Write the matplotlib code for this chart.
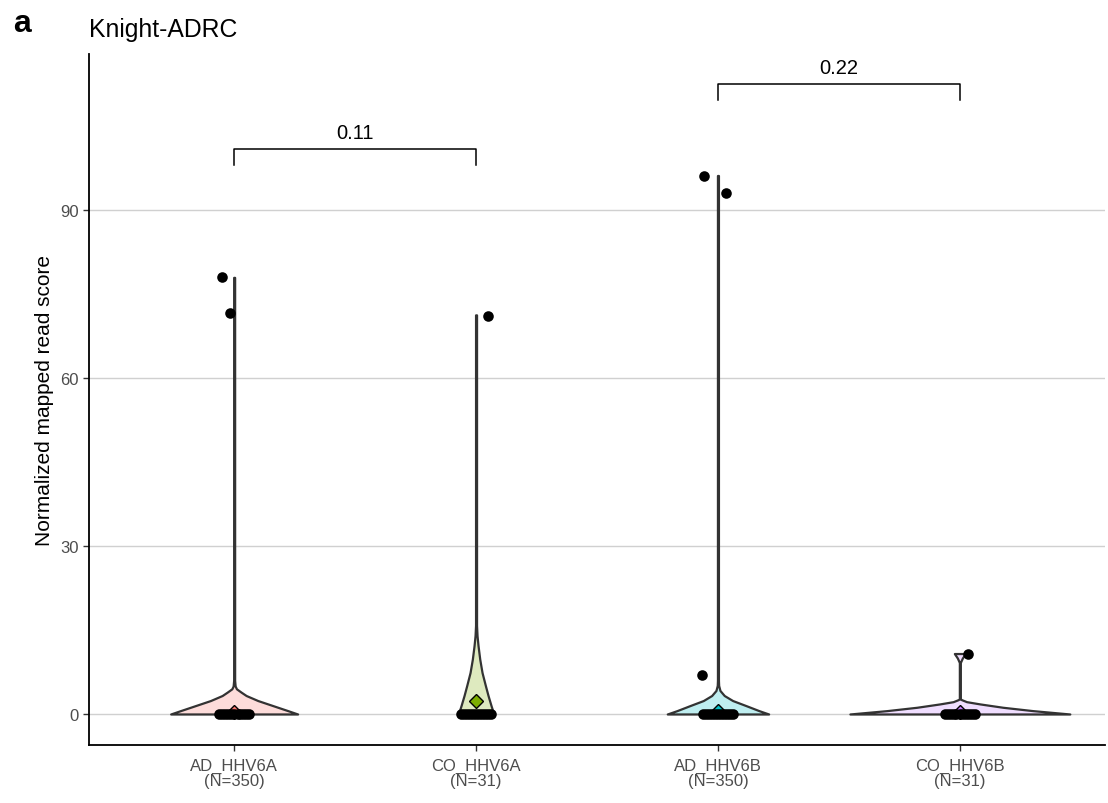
import numpy as np
import matplotlib
matplotlib.use("Agg")
import matplotlib.pyplot as plt
from matplotlib.colors import to_rgba

plt.rcParams['font.family'] = ['Liberation Sans', 'DejaVu Sans']

# groups and colours
groups = ["AD_HHV6A", "CO_HHV6A", "AD_HHV6B", "CO_HHV6B"]
n_total = [350, 31, 350, 31]
colors = ["#F8766D", "#7CAE00", "#00BFC4", "#C77CFF"]

# non-zero observations (all others are 0) and their jitter offsets
ad6a_vals = [78.0, 71.6]
ad6a_jit = [-0.052, -0.019]
co6a_vals = [71.1]
co6a_jit = [0.05]
ad6b_vals = [96.1, 93.1, 7.0]
ad6b_jit = [-0.058, 0.032, -0.066]
co6b_vals = [10.8]
co6b_jit = [0.034]

# jitter used for the stack of zero values
zero_jit = [-0.062, -0.05, -0.038, -0.026, -0.014, 0.0, 0.014, 0.026, 0.038, 0.05, 0.062]

# violin outlines: value, half width (px)
ad6a_y = [0, 0.6, 1.5, 2.4, 3.3, 3.9, 4.5, 5.0, 6.0, 78.0]
ad6a_w = [63.5, 53.7, 38.7, 23.7, 12, 7, 2.3, 1.0, 0.5, 0.5]
co6a_y = [0, 1.5, 3.3, 5.1, 7.4, 9.8, 12.2, 14.0, 15.8, 71.3]
co6a_w = [17.7, 15, 12, 9.3, 6, 3.7, 2, 1, 0.5, 0.5]
ad6b_y = [0, 0.6, 1.5, 2.4, 3.3, 4.2, 5.1, 6.0, 96.2]
ad6b_w = [50.7, 41, 28, 14.7, 6.3, 2, 0.7, 0.5, 0.5]
co6b_y = [0, 0.6, 1.2, 1.8, 2.2, 2.56, 2.7, 9.2, 10.0, 10.8]
co6b_w = [110, 73, 43, 20, 6.7, 1.7, 0.5, 0.5, 2.5, 5.5]

# p-value brackets
brackets = [(1, 2, 100.9, "0.11"), (3, 4, 112.5, "0.22")]

vals = [ad6a_vals, co6a_vals, ad6b_vals, co6b_vals]
jits = [ad6a_jit, co6a_jit, ad6b_jit, co6b_jit]
prof_y = [ad6a_y, co6a_y, ad6b_y, co6b_y]
prof_w = [ad6a_w, co6a_w, ad6b_w, co6b_w]

fig = plt.figure(figsize=(11.08, 8.04), dpi=100)
ax = fig.add_axes([89/1108, 1 - 746/804, (1105 - 89)/1108, (746 - 55)/804])

px = 1 / 242.0  # x data units per pixel

for i in range(4):
    pos = i + 1
    y = np.array(prof_y[i])
    w = np.array(prof_w[i]) * px
    ax.fill_betweenx(y, pos - w, pos + w, facecolor=to_rgba(colors[i], 0.25),
                     edgecolor="#333333", linewidth=1.6, zorder=2)
    mean = sum(vals[i]) / n_total[i]
    ax.plot(pos, mean, marker="D", markersize=7.5, markerfacecolor=colors[i],
            markeredgecolor="black", markeredgewidth=1, zorder=3)
    ax.scatter([pos + j for j in zero_jit], [0] * len(zero_jit), s=58, color="black",
               zorder=4, linewidths=0)
    ax.scatter([pos + j for j in jits[i]], vals[i], s=58, color="black",
               zorder=4, linewidths=0)

for x1, x2, yb, lab in brackets:
    ax.plot([x1, x1, x2, x2], [yb - 2.9, yb, yb, yb - 2.9], color="black", lw=1.1, zorder=5)
    ax.text((x1 + x2) / 2, yb + 1.3, lab, ha="center", va="bottom", fontsize=14.5)

ax.set_xlim(0.4, 4.6)
ax.set_ylim(-5.54, 117.9)
ax.set_yticks([0, 30, 60, 90])
ax.set_xticks([1, 2, 3, 4])
ax.set_xticklabels([f"{g}\n(N={n})" for g, n in zip(groups, n_total)], linespacing=1.05)
ax.tick_params(axis="both", colors="#333333", length=4, width=1, labelsize=12,
               labelcolor="#4D4D4D")
ax.tick_params(axis="x", pad=5)
ax.grid(axis="y", color="#D0D0D0", linewidth=1)
ax.set_axisbelow(True)
for s in ["top", "right"]:
    ax.spines[s].set_visible(False)
ax.spines["left"].set_linewidth(1.3)
ax.spines["bottom"].set_linewidth(1.3)
ax.set_ylabel("Normalized mapped read score", fontsize=15)
ax.yaxis.set_label_coords(-0.034, 0.5)

fig.text(89/1108, 1 - 37/804, "Knight-ADRC", fontsize=17.8, ha="left", va="baseline")
fig.text(13/1108, 1 - 32/804, "a", fontsize=23, fontweight="bold", ha="left", va="baseline")

fig.savefig("out.png", dpi=100)
